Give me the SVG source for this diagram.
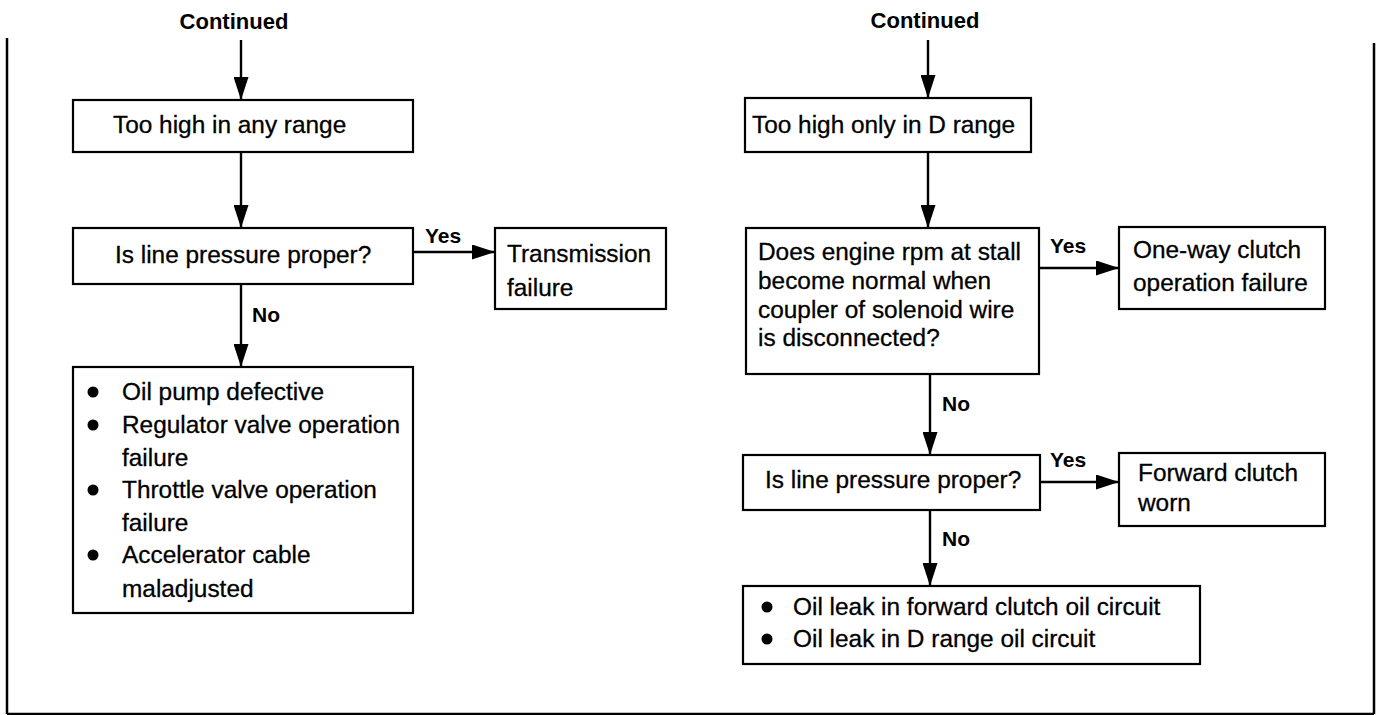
<svg xmlns="http://www.w3.org/2000/svg" width="1381" height="715" viewBox="0 0 1381 715">
  <style>
    .box { fill: #fff; stroke: #000; stroke-width: 2.2; }
    .txt { font-family: "Liberation Sans", Arial, sans-serif; font-size: 24.4px; fill: #000; stroke: #000; stroke-width: 0.3; }
    .lbl { font-family: "Liberation Sans", Arial, sans-serif; font-size: 21px; font-weight: bold; fill: #000; }
    .head { font-family: "Liberation Sans", Arial, sans-serif; font-size: 22px; font-weight: bold; fill: #000; }
    .wire { stroke: #000; stroke-width: 2.4; fill: none; marker-end: url(#arrow); }
    .frame { stroke: #000; stroke-width: 2.5; fill: none; }
  </style>
  <defs>
    <marker id="arrow" markerUnits="userSpaceOnUse" markerWidth="23" markerHeight="15" refX="23" refY="7.5" orient="auto">
      <path d="M0,0 L23,7.5 L0,15 Z" fill="#000"/>
    </marker>
  </defs>

  <rect width="1381" height="715" fill="#fff"/>

  <!-- page frame -->
  <g id="frame">
    <line class="frame" x1="7" y1="38" x2="7" y2="714"/>
    <line class="frame" x1="1374" y1="43" x2="1374" y2="714"/>
    <line class="frame" x1="7" y1="714" x2="1374" y2="714"/>
  </g>

  <!-- connectors -->
  <g id="connectors">
    <line class="wire" x1="241" y1="40" x2="241" y2="100"/>
    <line class="wire" x1="241" y1="152" x2="241" y2="228"/>
    <line class="wire" x1="413" y1="252" x2="495" y2="252" stroke-width="2"/>
    <line class="wire" x1="241" y1="284" x2="241" y2="367"/>
    <line class="wire" x1="928" y1="40" x2="928" y2="98"/>
    <line class="wire" x1="928" y1="152" x2="928" y2="228"/>
    <line class="wire" x1="1039" y1="268" x2="1119" y2="268"/>
    <line class="wire" x1="930" y1="374" x2="930" y2="455"/>
    <line class="wire" x1="1040" y1="482" x2="1119" y2="482"/>
    <line class="wire" x1="930" y1="510" x2="930" y2="586"/>
    <text class="lbl" x="425" y="243">Yes</text>
    <text class="lbl" x="252" y="322" font-size="22">No</text>
    <text class="lbl" x="1050" y="253">Yes</text>
    <text class="lbl" x="942" y="411" font-size="22">No</text>
    <text class="lbl" x="1050" y="467">Yes</text>
    <text class="lbl" x="942" y="546" font-size="22">No</text>
  </g>

  <!-- left column -->
  <g id="left-start">
    <text class="head" x="234" y="29" text-anchor="middle">Continued</text>
  </g>
  <g id="too-high-any">
    <rect class="box" x="73" y="100" width="340" height="52"/>
    <text class="txt" x="113" y="133">Too high in any range</text>
  </g>
  <g id="line-pressure-1">
    <rect class="box" x="73" y="228" width="340" height="56"/>
    <text class="txt" x="115" y="263">Is line pressure proper?</text>
  </g>
  <g id="transmission-failure">
    <rect class="box" x="495" y="228" width="171" height="81"/>
    <text class="txt" x="507" y="262">Transmission</text>
    <text class="txt" x="507" y="296">failure</text>
  </g>
  <g id="causes-1">
    <rect class="box" x="73" y="367" width="340" height="246"/>
    <circle cx="93" cy="392" r="5.5"/>
    <text class="txt" x="122" y="400">Oil pump defective</text>
    <circle cx="93" cy="425" r="5.5"/>
    <text class="txt" x="122" y="433">Regulator valve operation</text>
    <text class="txt" x="122" y="466">failure</text>
    <circle cx="93" cy="490" r="5.5"/>
    <text class="txt" x="122" y="498">Throttle valve operation</text>
    <text class="txt" x="122" y="531">failure</text>
    <circle cx="93" cy="555" r="5.5"/>
    <text class="txt" x="122" y="563">Accelerator cable</text>
    <text class="txt" x="122" y="597">maladjusted</text>
  </g>

  <!-- right column -->
  <g id="right-start">
    <text class="head" x="925" y="28" text-anchor="middle">Continued</text>
  </g>
  <g id="too-high-d">
    <rect class="box" x="745" y="98" width="286" height="54"/>
    <text class="txt" x="752" y="133">Too high only in D range</text>
  </g>
  <g id="stall-check">
    <rect class="box" x="746" y="228" width="293" height="146"/>
    <text class="txt" x="758" y="260">Does engine rpm at stall</text>
    <text class="txt" x="758" y="289">become normal when</text>
    <text class="txt" x="758" y="318">coupler of solenoid wire</text>
    <text class="txt" x="758" y="346">is disconnected?</text>
  </g>
  <g id="one-way-clutch">
    <rect class="box" x="1119" y="227" width="206" height="82"/>
    <text class="txt" x="1133" y="258">One-way clutch</text>
    <text class="txt" x="1133" y="291">operation failure</text>
  </g>
  <g id="line-pressure-2">
    <rect class="box" x="743" y="455" width="297" height="55"/>
    <text class="txt" x="765" y="488">Is line pressure proper?</text>
  </g>
  <g id="forward-clutch">
    <rect class="box" x="1119" y="453" width="206" height="73"/>
    <text class="txt" x="1138" y="481">Forward clutch</text>
    <text class="txt" x="1138" y="511">worn</text>
  </g>
  <g id="causes-2">
    <rect class="box" x="743" y="586" width="457" height="78"/>
    <circle cx="767" cy="607" r="5.5"/>
    <text class="txt" x="793" y="615">Oil leak in forward clutch oil circuit</text>
    <circle cx="767" cy="639" r="5.5"/>
    <text class="txt" x="793" y="647">Oil leak in D range oil circuit</text>
  </g>
</svg>
